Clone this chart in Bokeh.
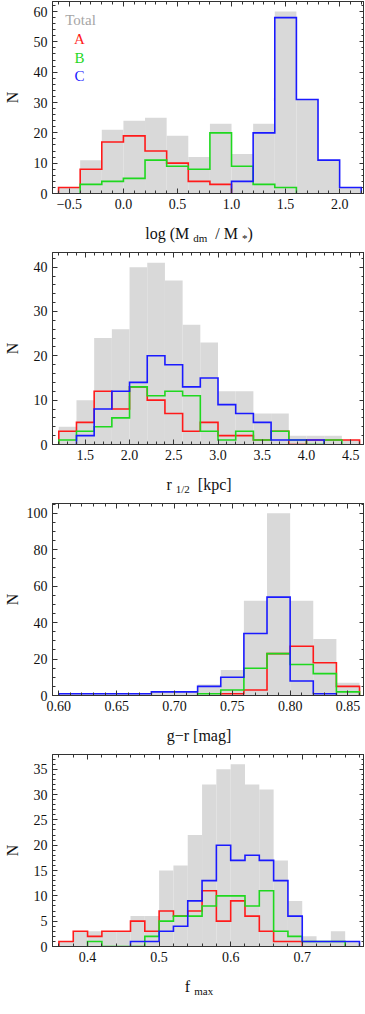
from bokeh.plotting import figure
from bokeh.layouts import column
from bokeh.models import LinearAxis, FixedTicker, CustomJSTickFormatter, Range1d, Label, Div
from bokeh.embed import file_html
from bokeh.resources import INLINE

# ---------------- data ----------------
# Panel 1: log(Mdm/M*)
mdm_edges = [-0.6, -0.4, -0.2, 0.0, 0.2, 0.4, 0.6, 0.8, 1.0, 1.2, 1.4, 1.6, 1.8, 2.0, 2.2]
mdm_total = [2, 11, 21, 24, 25, 19, 12, 23, 13, 23, 60, 31, 11, 2]
mdm_A = [2, 8, 17, 19, 14, 10, 4, 3, 0, 0, 0, 0, 0, 0]
mdm_B = [0, 3, 4, 5, 11, 9, 8, 20, 9, 3, 2, 0, 0, 0]
mdm_C = [0, 0, 0, 0, 0, 0, 0, 0, 4, 20, 58, 31, 11, 2]

# Panel 2: r_1/2 [kpc]
r_edges = [1.2, 1.4, 1.6, 1.8, 2.0, 2.2, 2.4, 2.6, 2.8, 3.0, 3.2, 3.4, 3.6, 3.8, 4.0, 4.2, 4.4, 4.6]
r_total = [4, 10, 24, 26, 40, 41, 37, 27, 23, 12, 12, 7, 7, 2, 2, 2, 1]
r_A = [3, 5, 12, 8, 13, 10, 7, 3, 5, 2, 2, 1, 3, 0, 1, 1, 1]
r_B = [1, 3, 4, 6, 13, 11, 12, 11, 3, 1, 3, 1, 3, 1, 0, 1, 0]
r_C = [0, 2, 8, 12, 14, 20, 18, 13, 15, 9, 7, 5, 1, 1, 1, 0, 0]

# Panel 3: g-r [mag]
gr_edges = [0.60, 0.62, 0.64, 0.66, 0.68, 0.70, 0.72, 0.74, 0.76, 0.78, 0.80, 0.82, 0.84, 0.86]
gr_total = [1, 1, 1, 1, 2, 2, 6, 14, 52, 100, 52, 31, 7]
gr_A = [0, 0, 0, 0, 0, 0, 0, 1, 3, 23, 27, 18, 5]
gr_B = [0, 0, 0, 0, 0, 0, 1, 3, 15, 23, 17, 12, 2]
gr_C = [1, 1, 1, 1, 2, 2, 5, 10, 34, 54, 8, 1, 0]

# Panel 4: f_max
f_edges = [0.36, 0.38, 0.40, 0.42, 0.44, 0.46, 0.48, 0.50, 0.52, 0.54, 0.56, 0.58,
           0.60, 0.62, 0.64, 0.66, 0.68, 0.70, 0.72, 0.74, 0.76, 0.78]
f_total = [1, 3, 3, 3, 3, 6, 6, 15, 16, 22, 32, 35, 36, 32, 31, 17, 9, 2, 1, 3, 1]
f_A = [1, 3, 2, 3, 3, 5, 3, 7, 6, 7, 11, 5, 9, 6, 3, 1, 1, 0, 0, 0, 0]
f_B = [0, 0, 1, 0, 0, 0, 2, 5, 6, 6, 8, 10, 10, 8, 11, 3, 2, 1, 1, 1, 0]
f_C = [0, 0, 0, 0, 0, 1, 1, 3, 4, 9, 13, 20, 17, 18, 17, 13, 6, 1, 1, 1, 1]

legend_labels = ["Total", "A", "B", "C"]

# ---------------- style ----------------
SERIF = "Liberation Serif"
GRAY = "#d9d9d9"
COLORS = {"Total": "#a6a6a6", "A": "#ff1a1a", "B": "#1fd81f", "C": "#1a1aff"}
FRAME = "#333333"
FW, FH = 312, 192
LEFT = 43

SUB = "<span style=\"font-size:11px;vertical-align:-3px\">{}</span>"
xlabels = [
    "log (M&nbsp;" + SUB.format("dm") + "&nbsp;&nbsp;/ M&nbsp;" + SUB.format("*") + ")",
    "r&nbsp;" + SUB.format("1/2") + "&nbsp;&nbsp;[kpc]",
    "g\u2212r [mag]",
    "f&nbsp;" + SUB.format("max"),
]


def steps(edges, counts):
    nz = [i for i, c in enumerate(counts) if c > 0]
    i0, i1 = nz[0], nz[-1]
    xs, ys = [edges[i0]], [0]
    for i in range(i0, i1 + 1):
        xs += [edges[i], edges[i + 1]]
        ys += [counts[i], counts[i]]
    xs.append(edges[i1 + 1])
    ys.append(0)
    return xs, ys


def frange(a, b, s, nd):
    out = []
    k = 0
    while True:
        v = round(a + k * s, nd)
        if v > b + 1e-9:
            break
        out.append(v)
        k += 1
    return out


def style_axis(ax, ticker, decimals, show):
    ax.ticker = ticker
    ax.axis_line_color = FRAME
    ax.major_tick_line_color = FRAME
    ax.minor_tick_line_color = FRAME
    ax.major_tick_in = 5
    ax.major_tick_out = 0
    ax.minor_tick_in = 3
    ax.minor_tick_out = 0
    if show:
        ax.formatter = CustomJSTickFormatter(args=dict(d=decimals),
                                             code="return tick.toFixed(d).replace('-', '\u2212');")
        ax.major_label_text_font = SERIF
        ax.major_label_text_font_size = "14px"
        ax.major_label_text_color = "#111111"
        ax.major_label_standoff = 5
    else:
        ax.formatter = CustomJSTickFormatter(code="return '';")
        ax.major_label_text_font_size = "0px"
        ax.major_label_standoff = 0


def panel(edges, total, A, B, C, xr, yr, xt, yt, xdec, ylab_standoff, legend=False):
    p = figure(frame_width=FW, frame_height=FH, output_backend="svg", toolbar_location=None,
               x_range=Range1d(*xr), y_range=Range1d(*yr),
               min_border_left=LEFT, min_border_right=0, min_border_top=1,
               min_border_bottom=26, outline_line_color=FRAME,
               x_axis_location=None, y_axis_location=None)
    p.grid.visible = False
    xtick = FixedTicker(ticks=xt[0], minor_ticks=xt[1])
    ytick = FixedTicker(ticks=yt[0], minor_ticks=yt[1])
    bx = LinearAxis()
    style_axis(bx, xtick, xdec, True)
    p.add_layout(bx, "below")
    tx = LinearAxis()
    style_axis(tx, xtick, xdec, False)
    p.add_layout(tx, "above")
    ly = LinearAxis()
    style_axis(ly, ytick, 0, True)
    ly.axis_label = "N"
    ly.axis_label_text_font = SERIF
    ly.axis_label_text_font_style = "normal"
    ly.axis_label_text_font_size = "16px"
    ly.axis_label_text_color = "#111111"
    ly.axis_label_standoff = ylab_standoff
    p.add_layout(ly, "left")
    ry = LinearAxis()
    style_axis(ry, ytick, 0, False)
    p.add_layout(ry, "right")

    p.quad(left=edges[:-1], right=edges[1:], bottom=0, top=total,
           fill_color=GRAY, line_color=None)
    for key, cnt in (("A", A), ("B", B), ("C", C)):
        xs, ys = steps(edges, cnt)
        p.line(xs, ys, line_color=COLORS[key], line_width=1.6, line_join="miter")

    if legend:
        offs = [(28, -18.5), (27, -37.5), (27, -56), (27, -74.5)]
        for lab, (ox, oy) in zip(legend_labels, offs):
            p.add_layout(Label(x=xr[0], y=yr[1], x_offset=ox, y_offset=oy, text=lab,
                               text_font=SERIF, text_font_size="15px", text_color=COLORS[lab],
                               text_align="center", text_baseline="middle"))
    return p


def xlabel(html, h):
    return Div(text="<div style=\"font-family:'Liberation Serif';font-size:16px;color:#111;"
                    "width:%dpx;text-align:center;line-height:18px;padding-top:6px;"
                    "white-space:nowrap\">" % FW + html + "</div>",
               width=FW, height=h, margin=(0, 0, 0, LEFT))


p1 = panel(mdm_edges, mdm_total, mdm_A, mdm_B, mdm_C,
           (-0.656, 2.23), (0, 63.3),
           (frange(-0.5, 2.0, 0.5, 2), frange(-0.6, 2.2, 0.1, 2)),
           (frange(0, 60, 10, 0), frange(0, 62, 2, 0)), 1, 10, legend=True)

p2 = panel(r_edges, r_total, r_A, r_B, r_C,
           (1.129, 4.656), (0, 43.3),
           (frange(1.5, 4.5, 0.5, 2), frange(1.2, 4.6, 0.1, 2)),
           (frange(0, 40, 10, 0), frange(0, 42, 2, 0)), 1, 10)

p3 = panel(gr_edges, gr_total, gr_A, gr_B, gr_C,
           (0.5945, 0.8643), (0, 105.4),
           (frange(0.60, 0.85, 0.05, 3), frange(0.60, 0.86, 0.01, 3)),
           (frange(0, 100, 20, 0), frange(0, 105, 5, 0)), 2, 3)

p4 = panel(f_edges, f_total, f_A, f_B, f_C,
           (0.351, 0.787), (0, 37.9),
           (frange(0.4, 0.7, 0.1, 2), frange(0.36, 0.78, 0.02, 2)),
           (frange(0, 35, 5, 0), frange(0, 37, 1, 0)), 1, 10)

layout = column(p1, xlabel(xlabels[0], 32), p2, xlabel(xlabels[1], 32),
                p3, xlabel(xlabels[2], 32), p4, xlabel(xlabels[3], 24), spacing=0)
open("out.html", "w").write(file_html(layout, INLINE))
